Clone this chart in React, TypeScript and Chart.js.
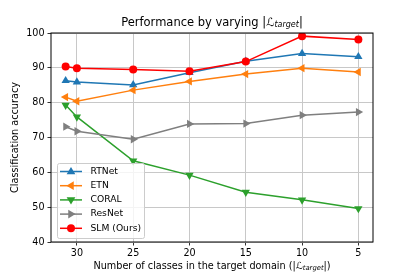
import React, { useEffect, useRef } from "react";
import { Chart, registerables } from "chart.js";

Chart.register(...registerables);

const xValues = [31, 30, 25, 20, 15, 10, 5];
const xTicks = [30, 25, 20, 15, 10, 5];
const yTicks = [40, 50, 60, 70, 80, 90, 100];

const rtnet = [86.3, 85.9, 85.1, 88.6, 91.9, 94.1, 93.2];
const etn = [81.6, 80.4, 83.6, 86.1, 88.2, 89.9, 88.8];
const coral = [79.3, 75.9, 63.3, 59.2, 54.3, 52.1, 49.6];
const resnet = [73.1, 71.8, 69.5, 73.9, 74.0, 76.4, 77.3];
const slm = [90.4, 89.9, 89.5, 89.0, 91.8, 99.1, 98.1];

const seriesNames = ["RTNet", "ETN", "CORAL", "ResNet", "SLM (Ours)"];
const seriesColors = ["#1f77b4", "#ff7f0e", "#2ca02c", "#7f7f7f", "#ff0000"];
const seriesMarkers = ["triangle", "triangle", "triangle", "triangle", "circle"];
const seriesRotations = [0, -90, 180, 90, 0];
const seriesValues = [rtnet, etn, coral, resnet, slm];

const FONT = "'DejaVu Sans', sans-serif";

type Seg = { t: string; f: string; dy: number };

function drawSegs(ctx: CanvasRenderingContext2D, segs: Seg[], cx: number, cy: number) {
  let w = 0;
  for (const s of segs) {
    ctx.font = s.f;
    w += ctx.measureText(s.t).width;
  }
  let x = cx - w / 2;
  ctx.textBaseline = "middle";
  ctx.textAlign = "left";
  for (const s of segs) {
    ctx.font = s.f;
    ctx.fillText(s.t, x, cy + s.dy);
    x += ctx.measureText(s.t).width;
  }
}

function drawMarker(ctx: CanvasRenderingContext2D, style: string, rot: number, x: number, y: number, r: number) {
  ctx.save();
  ctx.translate(x, y);
  ctx.rotate((rot * Math.PI) / 180);
  ctx.beginPath();
  if (style === "circle") {
    ctx.arc(0, 0, r, 0, Math.PI * 2);
  } else {
    const s = r * 1.15;
    ctx.moveTo(0, -s);
    ctx.lineTo(s * 0.95, s * 0.6);
    ctx.lineTo(-s * 0.95, s * 0.6);
    ctx.closePath();
  }
  ctx.fill();
  ctx.restore();
}

const decorPlugin = {
  id: "decor",
  afterDatasetsDraw(chart: any) {
    const ctx: CanvasRenderingContext2D = chart.ctx;
    const a = chart.chartArea;
    ctx.save();
    // frame
    ctx.strokeStyle = "#000";
    ctx.lineWidth = 1;
    ctx.strokeRect(a.left, a.top, a.right - a.left, a.bottom - a.top);

    // legend
    const lx = 57, ly = 163, lw = 87, lh = 75;
    ctx.fillStyle = "rgba(255,255,255,0.8)";
    ctx.strokeStyle = "#cccccc";
    ctx.beginPath();
    (ctx as any).roundRect(lx + 0.5, ly + 0.5, lw, lh, 2);
    ctx.fill();
    ctx.stroke();
    for (let i = 0; i < seriesNames.length; i++) {
      const yy = 171.5 + i * 14.2;
      ctx.strokeStyle = seriesColors[i];
      ctx.lineWidth = 1.5;
      ctx.beginPath();
      ctx.moveTo(60, yy);
      ctx.lineTo(82, yy);
      ctx.stroke();
      ctx.fillStyle = seriesColors[i];
      drawMarker(ctx, seriesMarkers[i], seriesRotations[i], 71, yy, 4);
      ctx.fillStyle = "#000";
      ctx.font = `9.2px ${FONT}`;
      ctx.textAlign = "left";
      ctx.textBaseline = "middle";
      ctx.fillText(seriesNames[i], 90.5, yy);
    }

    // title
    ctx.fillStyle = "#000";
    const cx = (a.left + a.right) / 2;
    drawSegs(ctx, [
      { t: "Performance by varying |", f: `11.5px ${FONT}`, dy: 0 },
      { t: "ℒ", f: `italic 11.5px ${FONT}`, dy: 0 },
      { t: "target", f: `italic 8px ${FONT}`, dy: 2 },
      { t: "|", f: `11.5px ${FONT}`, dy: 0 },
    ], cx, 23);

    // x label
    drawSegs(ctx, [
      { t: "Number of classes in the target domain (|", f: `9.7px ${FONT}`, dy: 0 },
      { t: "ℒ", f: `italic 9.7px ${FONT}`, dy: 0 },
      { t: "target", f: `italic 6.8px ${FONT}`, dy: 2 },
      { t: "|)", f: `9.7px ${FONT}`, dy: 0 },
    ], cx, 266);

    // y label
    ctx.translate(15, (a.top + a.bottom) / 2);
    ctx.rotate(-Math.PI / 2);
    ctx.font = `9.7px ${FONT}`;
    ctx.textAlign = "center";
    ctx.textBaseline = "middle";
    ctx.fillText("Classification accuracy", 0, 0);
    ctx.restore();
  },
};

export default function App() {
  const ref = useRef<HTMLCanvasElement>(null);
  useEffect(() => {
    document.body.style.margin = "0";
    const datasets = seriesValues.map((vals, i) => ({
      label: seriesNames[i],
      data: vals.map((v, j) => ({ x: xValues[j], y: v })),
      borderColor: seriesColors[i],
      backgroundColor: seriesColors[i],
      borderWidth: 1.5,
      pointStyle: seriesMarkers[i],
      pointRotation: seriesRotations[i],
      pointRadius: seriesMarkers[i] === "circle" ? 4 : 4.8,
      pointBorderWidth: 0,
      order: 4 - i,
      tension: 0,
    }));
    const chart = new Chart(ref.current!, {
      type: "line",
      data: { datasets },
      plugins: [decorPlugin],
      options: {
        animation: false,
        responsive: false,
        layout: { padding: { top: 33, right: 42, left: 0, bottom: 0 } },
        plugins: { legend: { display: false }, tooltip: { enabled: false }, title: { display: false } },
        scales: {
          x: {
            type: "linear",
            reverse: true,
            min: 3.7,
            max: 32.3,
            afterBuildTicks: (s: any) => {
              s.ticks = xTicks.map((v) => ({ value: v }));
            },
            afterFit: (s: any) => {
              s.height = 35;
            },
            grid: { color: "#c8c8c8", lineWidth: 1, drawTicks: true, tickLength: 3.5, tickColor: "#333" },
            border: { display: false },
            ticks: { color: "#000", font: { family: FONT, size: 9.6 }, padding: 2, maxRotation: 0, autoSkip: false },
          },
          y: {
            type: "linear",
            min: 40,
            max: 100,
            afterBuildTicks: (s: any) => {
              s.ticks = yTicks.map((v) => ({ value: v }));
            },
            afterFit: (s: any) => {
              s.width = 51;
            },
            grid: { color: "#c8c8c8", lineWidth: 1, drawTicks: true, tickLength: 3.5, tickColor: "#333" },
            border: { display: false },
            ticks: { color: "#000", font: { family: FONT, size: 9.6 }, padding: 3, autoSkip: false },
          },
        },
      },
    } as any);
    return () => chart.destroy();
  }, []);
  return <canvas ref={ref} width={415} height={277} style={{ display: "block" }} />;
}
